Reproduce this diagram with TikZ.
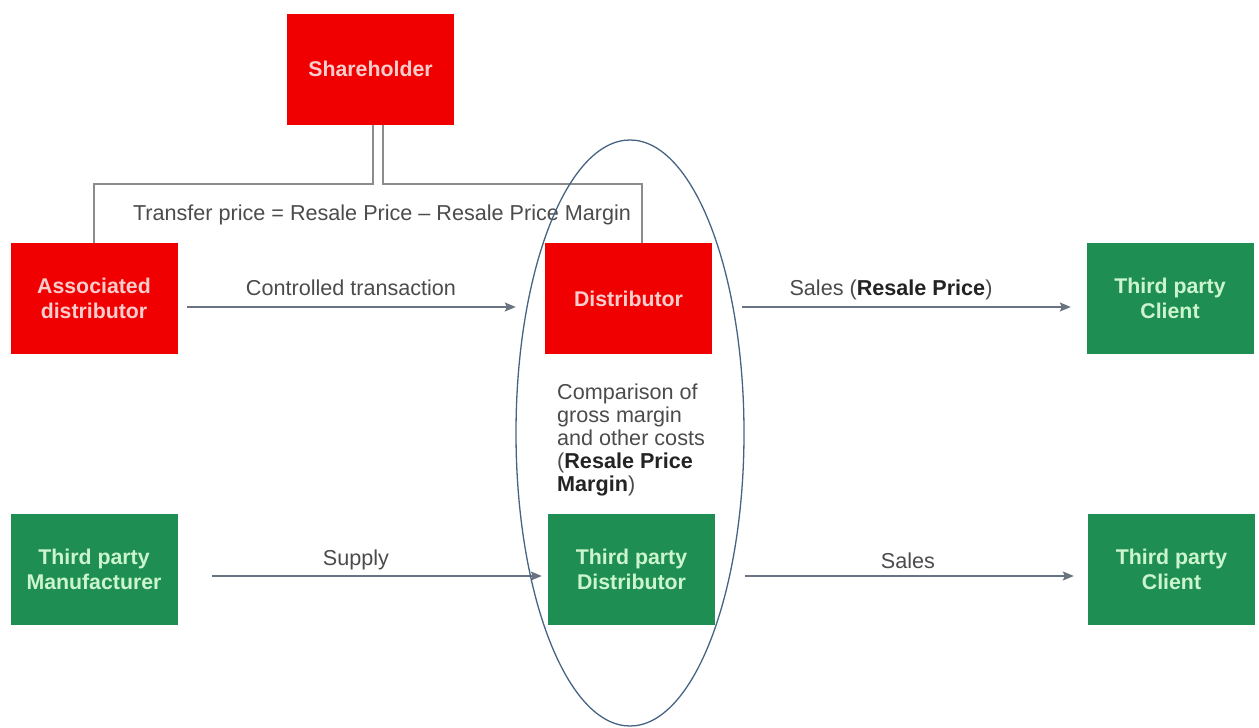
\documentclass[tikz,border=0pt]{standalone}
\usepackage{fontspec}
\setmainfont{Liberation Sans}
\usetikzlibrary{arrows.meta}
\definecolor{boxred}{RGB}{240,0,0}
\definecolor{boxgreen}{RGB}{30,142,82}
\definecolor{pinktext}{RGB}{250,205,205}
\definecolor{minttext}{RGB}{205,245,205}
\definecolor{flowline}{RGB}{105,115,130}
\definecolor{ringline}{RGB}{70,100,130}
\definecolor{labeltext}{RGB}{75,75,75}
\definecolor{strongtext}{RGB}{35,35,35}
\begin{document}
\begin{tikzpicture}[x=1pt,y=-1pt,
  entity/.style={minimum width=167pt,minimum height=111pt,inner sep=0pt,align=center,
    font=\fontsize{21.3}{25}\selectfont\bfseries},
  related/.style={entity,fill=boxred,text=pinktext},
  outside/.style={entity,fill=boxgreen,text=minttext},
  flow/.style={draw=flowline,line width=1.5pt,-{Stealth[length=11pt,width=9pt,inset=2pt]}},
  tie/.style={draw=gray!90,line width=2pt},
  lbl/.style={text=labeltext,font=\fontsize{21.6}{23}\selectfont,inner sep=0pt}]
\useasboundingbox (0,0) rectangle (1259,728);

% companies
\node[related] (sh)   at (370.5,69)   {Shareholder};
\node[related] (ad)   at (94,298.5)   {Associated\\distributor};
\node[related] (dist) at (628.5,298.5) {Distributor};
\node[outside] (tc1)  at (1170,298.5) {Third party\\Client};
\node[outside] (tm)   at (94,569.5)   {Third party\\Manufacturer};
\node[outside] (td)   at (631.5,569.5) {Third party\\Distributor};
\node[outside] (tc2)  at (1171.5,569.5) {Third party\\Client};

% ownership links
\draw[tie] ([xshift=2.5pt]sh.south) -- ++(0,59) -| (ad.north);
\draw[tie] ([xshift=12.5pt]sh.south) -- ++(0,59) -| ([xshift=13.5pt]dist.north);

% transactions
\draw[flow] ([shift={(9.5,8.5)}]ad.east) -- ([shift={(-29,8.5)}]dist.west);
\draw[flow] ([shift={(30,8.5)}]dist.east) -- ([shift={(-15.5,8.5)}]tc1.west);
\draw[flow] ([shift={(34.5,6.5)}]tm.east) -- ([shift={(-6,6.5)}]td.west);
\draw[flow] ([shift={(30,6.5)}]td.east) -- ([shift={(-14,6.5)}]tc2.west);

% labels
\node[lbl] (ltp) at (382,215) {Transfer price = Resale Price -- Resale Price Margin};
\node[lbl] (lct) at (351,288) {Controlled transaction};
\node[lbl] (lsr) at (891,290) {Sales (\textcolor{strongtext}{\bfseries Resale Price})};
\node[lbl] (lsu) at (356,560) {Supply};
\node[lbl] (lsa) at (908,561) {Sales};
\node[lbl,anchor=north west,align=left] (lcmp) at (557,384)
  {Comparison of\\gross margin\\and other costs\\(\textcolor{strongtext}{\bfseries Resale Price}\\\textcolor{strongtext}{\bfseries Margin})};

% comparison ring
\draw[ringline,line width=1.3pt] (630,433) ellipse [x radius=114, y radius=293];
\end{tikzpicture}
\end{document}
